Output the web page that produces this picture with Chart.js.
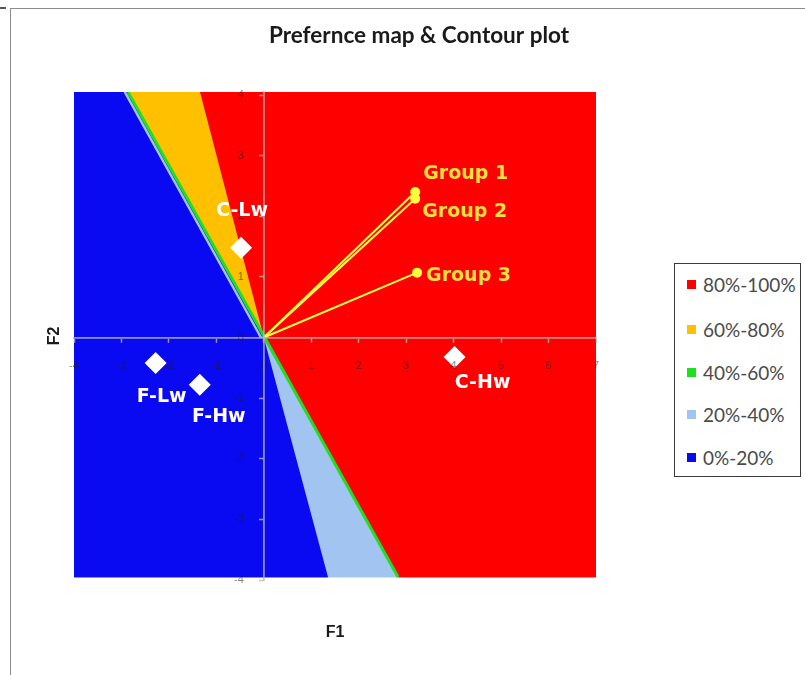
<!DOCTYPE html>
<html>
<head>
<meta charset="utf-8">
<script src="https://cdn.jsdelivr.net/npm/chart.js@4.4.1/dist/chart.umd.min.js"></script>
<style>
  html, body { margin: 0; padding: 0; background: #ffffff; }
  #wrap { position: relative; width: 805px; height: 675px; overflow: hidden; background: #ffffff; }
  #frame { position: absolute; left: 10px; top: 8px; width: 800px; height: 680px;
           border-left: 1.5px solid #8c8c8c; border-top: 1.5px solid #8c8c8c; }
  #corner { position: absolute; left: 0; top: 7px; width: 6px; height: 2px; background: #555; }
  canvas { position: absolute; left: 0; top: 0; }
  #legend { position: absolute; left: 674px; top: 263px; width: 127px; height: 214px;
            border: 1.5px solid #3a3a3a; box-sizing: border-box; background: #fff;
            font-family: Lato, "Open Sans", sans-serif; font-size: 19px; color: #4a4a4a; }
  .item { position: absolute; left: 12px; height: 24px; line-height: 24px; white-space: nowrap; }
  .sw { display: inline-block; width: 9px; height: 9px; margin-right: 7px; vertical-align: middle; position: relative; top: -2px; }
</style>
</head>
<body>
<div id="wrap">
  <div id="frame"></div>
  <div id="corner"></div>
  <canvas id="c" width="805" height="675"></canvas>
  <div id="legend"></div>
</div>
<script>
// ---------------- data ----------------
const chartTitle = 'Prefernce map & Contour plot';
const axisTitleX = 'F1';
const axisTitleY = 'F2';

const regionNames  = ['80%-100%', '60%-80%', '40%-60%', '20%-40%', '0%-20%'];
const regionColors = ['#ff0000', '#ffc000', '#1ee01e', '#a2c4f0', '#0a0af2'];

// region outlines (F1, F2)
const region80_100 = [[-1.345, 4.05], [7, 4.05], [7, -3.95], [2.828, -3.95], [0, 0]];
const region60_80  = [[-2.862, 4.05], [-1.345, 4.05], [0, 0]];
const region20_40  = [[0, 0], [2.828, -3.95], [1.353, -3.95]];
const region0_20   = [[-4, 4.05], [-2.862, 4.05], [0, 0], [1.353, -3.95], [-4, -3.95]];
const band40_60    = [[-2.862, 4.05], [2.828, -3.95]];
const band20_40Top = [[-2.93, 4.05], [-0.06, 0]];

const groupNames = ['Group 1', 'Group 2', 'Group 3'];
const groupF1 = [3.19, 3.19, 3.23];
const groupF2 = [2.40, 2.29, 1.07];

const productNames = ['C-Lw', 'F-Lw', 'F-Hw', 'C-Hw'];
const productF1 = [-0.48, -2.28, -1.35, 4.02];
const productF2 = [1.48, -0.42, -0.78, -0.32];

// ---------------- styles ----------------
const productLabelOffset = [[1, -37], [6, 34], [19, 32], [28, 26]];
const groupLabelOffset = [[8, -18], [7, 13], [9, 3]];
const axisGrey = 'rgba(180,180,180,0.8)';
const tickText = 'rgba(30,30,30,0.55)';
const yLabelColumnF1 = -0.42;   // where the F2 tick labels sit (right edge)

const pts = arr => arr.map(([x, y]) => ({x, y}));

function regionDataset(name, arr, color) {
  return { label: name, data: pts(arr), showLine: true, fill: 'shape',
           backgroundColor: color, borderColor: color, borderWidth: 1,
           pointRadius: 0, pointHoverRadius: 0, order: 10 };
}

const datasets = [
  regionDataset(regionNames[0], region80_100, regionColors[0]),
  regionDataset(regionNames[1], region60_80, regionColors[1]),
  regionDataset(regionNames[3], region20_40, regionColors[3]),
  regionDataset(regionNames[4], region0_20, regionColors[4]),
  { label: 'band20_40', data: pts(band20_40Top), showLine: true, fill: false,
    borderColor: regionColors[3], borderWidth: 2.5, pointRadius: 0, order: 8 },
  { label: regionNames[2], data: pts(band40_60), showLine: true, fill: false,
    borderColor: regionColors[2], borderWidth: 3, pointRadius: 0, order: 7 }
];
groupNames.forEach((g, i) => {
  datasets.push({ label: g, data: [{x: 0, y: 0}, {x: groupF1[i], y: groupF2[i]}],
    showLine: true, fill: false, borderColor: '#ffff3a', borderWidth: 2,
    pointRadius: [0, 4], pointBackgroundColor: '#ffff3a', pointBorderColor: '#ffff3a', order: 3 });
});
datasets.push({ label: 'products', data: productF1.map((x, i) => ({x, y: productF2[i]})),
  showLine: false, pointStyle: 'rectRot', pointRadius: 11, pointBackgroundColor: '#ffffff',
  pointBorderColor: '#ffffff', pointBorderWidth: 0, order: 1 });

const labelPlugin = {
  id: 'markLabels',
  afterDraw(chart) {
    const {ctx} = chart;
    const sx = chart.scales.x, sy = chart.scales.y;
    ctx.save();
    ctx.font = 'bold 19px "DejaVu Sans"';
    ctx.textBaseline = 'middle';
    ctx.textAlign = 'center';
    ctx.fillStyle = '#ffffff';
    productNames.forEach((n, i) => {
      ctx.fillText(n, sx.getPixelForValue(productF1[i]) + productLabelOffset[i][0],
                      sy.getPixelForValue(productF2[i]) + productLabelOffset[i][1]);
    });
    ctx.textAlign = 'left';
    ctx.fillStyle = '#f6e03c';
    groupNames.forEach((n, i) => {
      ctx.fillText(n, sx.getPixelForValue(groupF1[i]) + groupLabelOffset[i][0],
                      sy.getPixelForValue(groupF2[i]) + groupLabelOffset[i][1]);
    });
    ctx.restore();
  }
};

const hidden = { grid: { display: false }, ticks: { display: false }, border: { display: false } };
const tickFont = { size: 11, family: 'Liberation Sans' };

new Chart(document.getElementById('c'), {
  type: 'scatter',
  data: { datasets },
  plugins: [labelPlugin],
  options: {
    responsive: false,
    animation: false,
    events: [],
    layout: { padding: { left: 33, right: 0, top: 0, bottom: 0 } },
    plugins: {
      legend: { display: false },
      tooltip: { enabled: false },
      title: { display: true, text: chartTitle, color: '#1a1a1a',
               font: { family: 'Lato', weight: 'bold', size: 22.5 },
               padding: { top: 22.5, bottom: 42.5 } }
    },
    scales: {
      x: { type: 'linear', min: -4, max: 7, position: { y: 0 },
           ticks: { z: 2, stepSize: 1, autoSkip: false, color: tickText, font: tickFont, padding: 18, maxRotation: 0 },
           grid: { z: 2, drawOnChartArea: false, color: axisGrey, tickLength: 4, tickWidth: 1.5 },
           border: { z: 2, color: axisGrey, width: 1.8 } },
      y: { type: 'linear', min: -4, max: 4.05, position: { x: 0 },
           ticks: { display: false, stepSize: 1, includeBounds: false },
           grid: { z: 2, drawOnChartArea: false, color: axisGrey, tickLength: 4, tickWidth: 1.5 },
           border: { z: 2, color: axisGrey, width: 1.8 } },
      y2: { type: 'linear', min: -4, max: 4.05, position: { x: yLabelColumnF1 },
           ticks: { z: 2, stepSize: 1, includeBounds: false, autoSkip: false, color: tickText, font: tickFont },
           grid: { display: false }, border: { display: false } },
      xb: Object.assign({ type: 'linear', position: 'bottom',
           title: { display: true, text: axisTitleX, color: '#1a1a1a',
                    font: { family: 'Liberation Sans', weight: 'bold', size: 16 }, padding: { top: 0, bottom: 33 } },
           afterFit: s => { s.height = 95; } }, hidden),
      yl: Object.assign({ type: 'linear', position: 'left',
           title: { display: true, text: axisTitleY, color: '#1a1a1a',
                    font: { family: 'Liberation Sans', weight: 'bold', size: 16 }, padding: { top: 12.4, bottom: 0 } },
           afterFit: s => { s.width = 41; } }, hidden),
      yr: Object.assign({ type: 'linear', position: 'right', title: { display: false },
           afterFit: s => { s.width = 209; } }, hidden)
    }
  }
});

// legend (HTML, from the same arrays)
const legendTops = [285, 330, 373, 415, 458];
const lg = document.getElementById('legend');
regionNames.forEach((n, i) => {
  const d = document.createElement('div');
  d.className = 'item';
  d.style.top = (legendTops[i] - 263 - 12 - 1.5) + 'px';
  d.innerHTML = '<span class="sw" style="background:' + regionColors[i] + '"></span>' + n;
  lg.appendChild(d);
});
</script>
</body>
</html>
